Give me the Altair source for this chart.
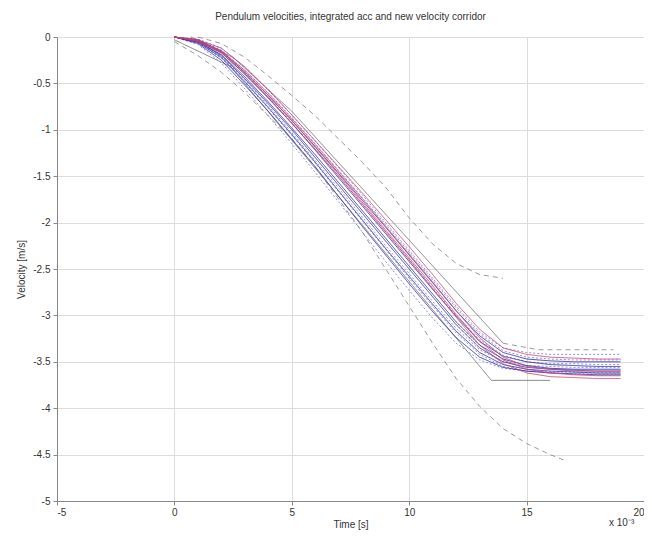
import altair as alt
import pandas as pd

# common time grid (x axis, scaled by 10^-3 in original)
T = [0, 1, 2, 3, 4, 5, 6, 7, 8, 9, 10, 11, 12, 13, 14, 15, 16, 17, 18, 19]

blue_solid = {
    "b1": [0, -0.03, -0.15, -0.38, -0.63, -0.90, -1.18, -1.47, -1.76, -2.05, -2.35, -2.65, -2.95, -3.22, -3.40, -3.47, -3.49, -3.50, -3.50, -3.50],
    "b2": [0, -0.05, -0.20, -0.45, -0.72, -1.00, -1.30, -1.60, -1.90, -2.20, -2.50, -2.80, -3.10, -3.35, -3.50, -3.56, -3.58, -3.59, -3.60, -3.60],
    "b3": [0, -0.06, -0.22, -0.48, -0.76, -1.05, -1.35, -1.66, -1.97, -2.28, -2.58, -2.88, -3.17, -3.40, -3.53, -3.58, -3.60, -3.61, -3.62, -3.62],
    "b4": [0, -0.04, -0.17, -0.40, -0.66, -0.93, -1.22, -1.52, -1.82, -2.12, -2.42, -2.72, -3.01, -3.28, -3.44, -3.50, -3.53, -3.54, -3.55, -3.55],
    "b5": [0, -0.05, -0.19, -0.43, -0.70, -0.98, -1.27, -1.57, -1.87, -2.17, -2.47, -2.77, -3.07, -3.32, -3.47, -3.54, -3.57, -3.58, -3.58, -3.58],
    "b6": [0, -0.07, -0.25, -0.52, -0.80, -1.10, -1.40, -1.72, -2.04, -2.35, -2.66, -2.96, -3.24, -3.45, -3.56, -3.60, -3.62, -3.63, -3.64, -3.64],
}
blue_dot = {
    "d1": [0, -0.03, -0.14, -0.36, -0.60, -0.87, -1.15, -1.44, -1.73, -2.02, -2.32, -2.62, -2.92, -3.20, -3.38, -3.45, -3.47, -3.48, -3.48, -3.48],
    "d2": [0, -0.04, -0.16, -0.39, -0.65, -0.92, -1.21, -1.50, -1.80, -2.10, -2.40, -2.70, -3.00, -3.26, -3.43, -3.50, -3.52, -3.52, -3.53, -3.53],
    "d3": [0, -0.06, -0.23, -0.49, -0.77, -1.06, -1.36, -1.67, -1.98, -2.29, -2.60, -2.90, -3.19, -3.42, -3.55, -3.60, -3.62, -3.63, -3.63, -3.63],
    "d4": [0, -0.02, -0.12, -0.33, -0.57, -0.84, -1.12, -1.41, -1.70, -2.00, -2.30, -2.60, -2.90, -3.18, -3.35, -3.40, -3.42, -3.42, -3.42, -3.42],
    "d5": [0, -0.08, -0.28, -0.56, -0.85, -1.15, -1.46, -1.78, -2.10, -2.42, -2.73, -3.03, -3.30, -3.48, -3.57, -3.60, -3.61, -3.61, -3.62, -3.62],
    "d6": [0, -0.05, -0.21, -0.46, -0.74, -1.03, -1.33, -1.63, -1.94, -2.25, -2.55, -2.85, -3.14, -3.37, -3.50, -3.54, -3.55, -3.56, -3.56, -3.56],
}
red = {
    "r1": [0, -0.03, -0.12, -0.32, -0.57, -0.84, -1.12, -1.40, -1.68, -1.97, -2.26, -2.56, -2.87, -3.15, -3.35, -3.42, -3.45, -3.46, -3.47, -3.47],
    "r2": [0, -0.04, -0.15, -0.36, -0.61, -0.88, -1.16, -1.45, -1.74, -2.04, -2.34, -2.64, -2.95, -3.24, -3.45, -3.55, -3.58, -3.60, -3.60, -3.60],
    "r3": [0, -0.05, -0.17, -0.40, -0.65, -0.93, -1.21, -1.50, -1.80, -2.10, -2.40, -2.71, -3.02, -3.32, -3.52, -3.62, -3.66, -3.67, -3.68, -3.68],
    "r4": [0, -0.04, -0.16, -0.38, -0.63, -0.90, -1.19, -1.48, -1.78, -2.08, -2.38, -2.68, -2.99, -3.28, -3.48, -3.58, -3.62, -3.64, -3.65, -3.65],
}

# old velocity corridor (dashed grey)
old_upper_t = [1.0, 2, 3, 4, 5, 6, 7, 8, 9, 10, 11, 12, 13, 14]
old_upper_v = [0, -0.07, -0.22, -0.42, -0.63, -0.85, -1.10, -1.35, -1.62, -1.95, -2.23, -2.44, -2.56, -2.60]
old_lower_t = [0, 1, 2, 3, 4, 5, 6, 7, 8, 9, 10, 11, 12, 13, 14, 15, 16, 16.7]
old_lower_v = [-0.05, -0.20, -0.38, -0.60, -0.85, -1.10, -1.40, -1.75, -2.10, -2.50, -2.90, -3.30, -3.68, -3.98, -4.22, -4.38, -4.50, -4.57]

# new velocity corridor (solid grey)
new_upper_t = [0.7, 2.5, 5, 14.0]
new_upper_v = [0, -0.22, -0.80, -3.30]
new_upper_flat_t = [14.0, 15.5, 18.7]
new_upper_flat_v = [-3.30, -3.37, -3.37]
new_lower_t = [0, 2.4, 13.5, 16.0]
new_lower_v = [-0.03, -0.32, -3.70, -3.70]

rows = []
def add(name, kind, ts, vs, order):
    for t, v in zip(ts, vs):
        rows.append({"series": name, "kind": kind, "t": t, "v": v, "o": order})

add("old_upper", "grey dashed", old_upper_t, old_upper_v, 0)
add("old_lower", "grey dashed", old_lower_t, old_lower_v, 0)
add("new_upper", "grey solid", new_upper_t, new_upper_v, 0)
add("new_upper_flat", "grey dashed", new_upper_flat_t, new_upper_flat_v, 0)
add("new_lower", "grey solid", new_lower_t, new_lower_v, 0)
for k, vs in blue_dot.items():
    add(k, "blue dotted", T, vs, 1)
for k, vs in blue_solid.items():
    add(k, "blue", T, vs, 2)
for k, vs in red.items():
    add(k, "red", T, vs, 3)

df = pd.DataFrame(rows)

kinds = ["grey dashed", "grey solid", "blue dotted", "blue", "red"]
colors = ["#8a8a8a", "#6f6f6f", "#7b7be0", "#2a2aa8", "#d0406a"]
dashes = [[5, 4], [1, 0], [2, 2], [1, 0], [1, 0]]

x_ticks = [-5, 0, 5, 10, 15, 20]
y_ticks = [0, -0.5, -1, -1.5, -2, -2.5, -3, -3.5, -4, -4.5, -5]

lines = alt.Chart(df).mark_line(strokeWidth=1, opacity=0.85).encode(
    x=alt.X("t:Q", scale=alt.Scale(domain=[-5, 20], nice=False),
            axis=alt.Axis(values=x_ticks, title="Time [s]", labelExpr="toString(datum.value)")),
    y=alt.Y("v:Q", scale=alt.Scale(domain=[-5, 0], nice=False),
            axis=alt.Axis(values=y_ticks, title="Velocity [m/s]", labelExpr="toString(datum.value)")),
    color=alt.Color("kind:N", scale=alt.Scale(domain=kinds, range=colors), legend=None),
    strokeDash=alt.StrokeDash("kind:N", scale=alt.Scale(domain=kinds, range=dashes), legend=None),
    detail="series:N",
    order=alt.Order("o:Q"),
)

note = alt.Chart(pd.DataFrame({"txt": ["x 10\u207b\u00b3"]})).mark_text(
    align="left", baseline="middle", fontSize=10, font="Liberation Sans", color="#333"
).encode(x=alt.value(552), y=alt.value(486), text="txt:N")

chart = alt.layer(lines, note).properties(
    width=587,
    height=464,
    autosize=alt.AutoSizeParams(type="none"),
    padding={"left": 49, "top": 29, "right": 0, "bottom": 32},
    title=alt.Title("Pendulum velocities, integrated acc and new velocity corridor",
                    fontSize=10, font="Liberation Sans", fontWeight="normal",
                    color="#333", offset=10, anchor="middle"),
).configure_axis(
    labelFont="Liberation Sans", titleFont="Liberation Sans",
    labelFontSize=10, titleFontSize=10, titleFontWeight="normal",
    labelColor="#333", titleColor="#333",
    gridColor="#dcdcdc", domainColor="#888", tickColor="#888",
    tickSize=4,
).configure_axisX(labelPadding=2, titlePadding=2).configure_axisY(labelPadding=3, titlePadding=6).configure_view(
    stroke="#888"
)

chart.save("out.html", embed_options={"renderer": "svg", "actions": False})
